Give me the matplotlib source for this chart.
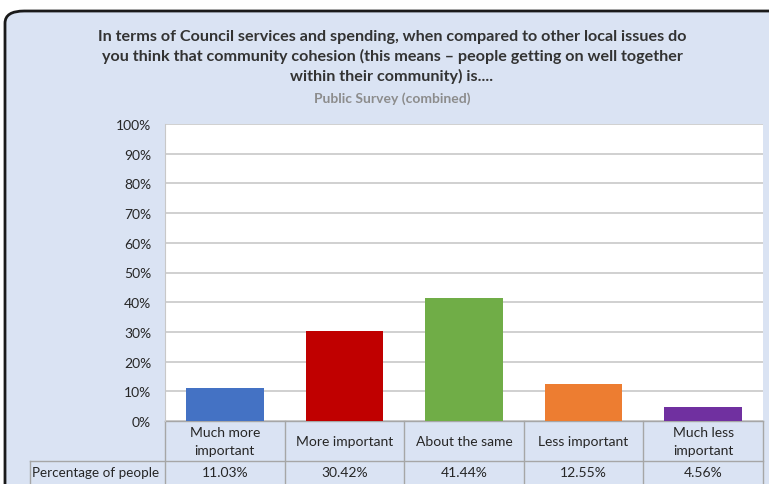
import matplotlib.pyplot as plt
from matplotlib.patches import FancyBboxPatch
from matplotlib.transforms import blended_transform_factory
from matplotlib.ticker import PercentFormatter

plt.rcParams['font.family'] = ['Lato', 'DejaVu Sans']

# data
categories = ['Much more\nimportant', 'More important', 'About the same',
              'Less important', 'Much less\nimportant']
values = [11.03, 30.42, 41.44, 12.55, 4.56]
value_labels = ['11.03%', '30.42%', '41.44%', '12.55%', '4.56%']
colors = ['#4472c4', '#c00000', '#70ad47', '#ed7d31', '#7030a0']
row_label = 'Percentage of people'

W, H = 769, 485
fig = plt.figure(figsize=(W / 100, H / 100), dpi=100)
fig.patch.set_facecolor('white')

bg = '#dae3f3'
box = FancyBboxPatch((5 / W, -20 / H), 790 / W, (H - 12 + 20) / H,
                     boxstyle='round,pad=0,rounding_size=0.025',
                     transform=fig.transFigure, facecolor=bg,
                     edgecolor='#1a1a1a', linewidth=2, zorder=-5)
fig.patches.append(box)

ax = fig.add_axes([165 / W, 1 - 422 / H, 598 / W, 297 / H])
ax.set_zorder(2)
ax.set_facecolor('white')
x = list(range(len(values)))
ax.bar(x, values, width=0.65, color=colors, zorder=3)
ax.set_xlim(-0.5, len(values) - 0.5)
ax.set_ylim(0, 100)
ax.set_yticks(range(0, 101, 10))
ax.yaxis.set_major_formatter(PercentFormatter(decimals=0))
ax.tick_params(axis='y', length=0, labelsize=10, pad=10, colors='#262626')
ax.set_xticks([])
ax.grid(axis='y', color='#c8c8c8', linewidth=1.2, zorder=0)
for s in ax.spines.values():
    s.set_visible(False)
ax.spines['left'].set_visible(True)
ax.spines['left'].set_color('#c8c8c8')

# data table under the chart
tr = blended_transform_factory(ax.transData, ax.transAxes)
px = 1 / 297
line_kw = dict(transform=tr, color='#a6a6a6', linewidth=1, clip_on=False)
hdr_bottom = -40 * px
row_bottom = -80 * px
left_lbl = -0.5 - 135 / 119.6
ax.plot([-0.5, 4.5], [0, 0], **line_kw)
ax.plot([left_lbl, 4.5], [hdr_bottom, hdr_bottom], **line_kw)
ax.plot([left_lbl, left_lbl], [hdr_bottom, row_bottom], **line_kw)
for i in range(len(values) + 1):
    ax.plot([i - 0.5, i - 0.5], [0, row_bottom], **line_kw)
for i, (c, v) in enumerate(zip(categories, value_labels)):
    ax.text(i, -20 * px, c, transform=tr, ha='center', va='center',
            fontsize=10, color='#262626', linespacing=1.6)
    ax.text(i, -51 * px, v, transform=tr, ha='center', va='center',
            fontsize=10, color='#262626')
ax.text(left_lbl + 0.02, -51 * px, row_label, transform=tr, ha='left',
        va='center', fontsize=9.7, color='#262626')

fig.text(392 / W, 1 - 57 / H,
         'In terms of Council services and spending, when compared to other local issues do\n'
         'you think that community cohesion (this means \u2013 people getting on well together\n'
         'within their community) is....',
         ha='center', va='center', fontsize=11.6, fontweight='bold',
         color='#333333', linespacing=1.42)
fig.text(392 / W, 1 - 99 / H, 'Public Survey (combined)', ha='center',
         va='center', fontsize=10, fontweight='bold', color='#8c8c8c')

fig.savefig('out.png', dpi=100)
